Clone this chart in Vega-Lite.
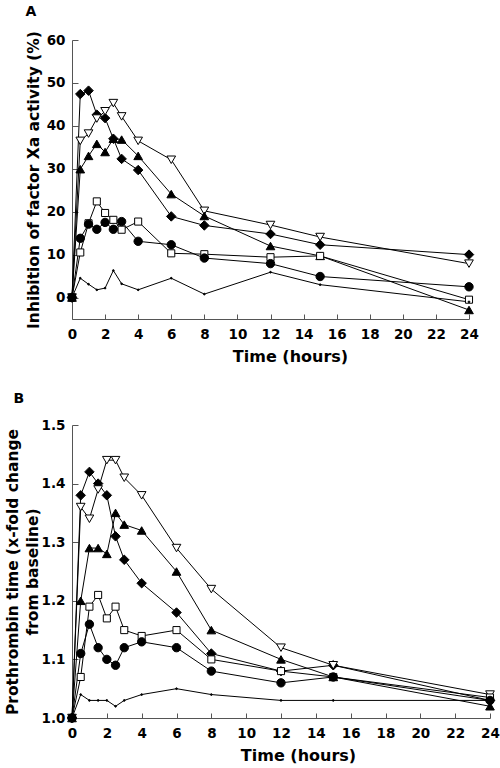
{
  "$schema": "https://vega.github.io/schema/vega-lite/v6.json",
  "padding": {"left": 5, "top": 4, "right": 0, "bottom": 0},
  "background": "white",
  "bounds": "flush",
  "spacing": 106,
  "config": {
    "font": "DejaVu Sans",
    "view": {"stroke": null},
    "axis": {
      "grid": false,
      "labelFont": "DejaVu Sans", "labelFontWeight": "bold", "labelFontSize": 13.5, "labelColor": "black",
      "titleFont": "DejaVu Sans", "titleFontWeight": "bold", "titleFontSize": 16, "titleColor": "black",
      "domainColor": "#555", "tickColor": "#555", "tickSize": -6, "labelPadding": 13,
      "labelFlush": false, "labelOverlap": false
    }
  },
  "datasets": {
    "A": [
      {"t":0,"v":0,"s":"dia"},{"t":0.5,"v":47.4,"s":"dia"},{"t":1,"v":48.2,"s":"dia"},{"t":1.5,"v":42.6,"s":"dia"},{"t":2,"v":41.8,"s":"dia"},{"t":2.5,"v":37.0,"s":"dia"},{"t":3,"v":32.3,"s":"dia"},{"t":4,"v":29.7,"s":"dia"},{"t":6,"v":18.9,"s":"dia"},{"t":8,"v":16.8,"s":"dia"},{"t":12,"v":14.8,"s":"dia"},{"t":15,"v":12.3,"s":"dia"},{"t":24,"v":10.0,"s":"dia"},
      {"t":0,"v":0,"s":"trid"},{"t":0.5,"v":36.5,"s":"trid"},{"t":1,"v":38.2,"s":"trid"},{"t":1.5,"v":41.7,"s":"trid"},{"t":2,"v":43.4,"s":"trid"},{"t":2.5,"v":45.3,"s":"trid"},{"t":3,"v":42.2,"s":"trid"},{"t":4,"v":36.5,"s":"trid"},{"t":6,"v":32.1,"s":"trid"},{"t":8,"v":20.2,"s":"trid"},{"t":12,"v":16.9,"s":"trid"},{"t":15,"v":14.1,"s":"trid"},{"t":24,"v":7.9,"s":"trid"},
      {"t":0,"v":0,"s":"triu"},{"t":0.5,"v":29.9,"s":"triu"},{"t":1,"v":33.0,"s":"triu"},{"t":1.5,"v":35.8,"s":"triu"},{"t":2,"v":33.9,"s":"triu"},{"t":2.5,"v":37.0,"s":"triu"},{"t":3,"v":36.8,"s":"triu"},{"t":4,"v":33.0,"s":"triu"},{"t":6,"v":24.1,"s":"triu"},{"t":8,"v":19.0,"s":"triu"},{"t":12,"v":12.0,"s":"triu"},{"t":15,"v":9.7,"s":"triu"},{"t":24,"v":-2.9,"s":"triu"},
      {"t":0,"v":0,"s":"sq"},{"t":0.5,"v":10.5,"s":"sq"},{"t":1,"v":17.3,"s":"sq"},{"t":1.5,"v":22.4,"s":"sq"},{"t":2,"v":19.7,"s":"sq"},{"t":2.5,"v":18.1,"s":"sq"},{"t":3,"v":15.8,"s":"sq"},{"t":4,"v":17.7,"s":"sq"},{"t":6,"v":10.3,"s":"sq"},{"t":8,"v":10.1,"s":"sq"},{"t":12,"v":9.4,"s":"sq"},{"t":15,"v":9.7,"s":"sq"},{"t":24,"v":-0.5,"s":"sq"},
      {"t":0,"v":0,"s":"circ"},{"t":0.5,"v":13.8,"s":"circ"},{"t":1,"v":17.1,"s":"circ"},{"t":1.5,"v":15.9,"s":"circ"},{"t":2,"v":17.5,"s":"circ"},{"t":2.5,"v":15.9,"s":"circ"},{"t":3,"v":17.7,"s":"circ"},{"t":4,"v":13.1,"s":"circ"},{"t":6,"v":12.3,"s":"circ"},{"t":8,"v":9.2,"s":"circ"},{"t":12,"v":7.9,"s":"circ"},{"t":15,"v":4.9,"s":"circ"},{"t":24,"v":2.5,"s":"circ"},
      {"t":0,"v":0,"s":"pl"},{"t":0.5,"v":4.5,"s":"pl"},{"t":1,"v":3.1,"s":"pl"},{"t":1.5,"v":1.8,"s":"pl"},{"t":2,"v":2.2,"s":"pl"},{"t":2.5,"v":6.3,"s":"pl"},{"t":3,"v":3.2,"s":"pl"},{"t":4,"v":1.8,"s":"pl"},{"t":6,"v":4.5,"s":"pl"},{"t":8,"v":0.8,"s":"pl"},{"t":12,"v":5.9,"s":"pl"},{"t":15,"v":3.0,"s":"pl"},{"t":24,"v":-1.0,"s":"pl"}
    ],
    "B": [
      {"t":0,"v":1.0,"s":"dia"},{"t":0.5,"v":1.38,"s":"dia"},{"t":1,"v":1.42,"s":"dia"},{"t":1.5,"v":1.40,"s":"dia"},{"t":2,"v":1.38,"s":"dia"},{"t":2.5,"v":1.31,"s":"dia"},{"t":3,"v":1.27,"s":"dia"},{"t":4,"v":1.23,"s":"dia"},{"t":6,"v":1.18,"s":"dia"},{"t":8,"v":1.11,"s":"dia"},{"t":12,"v":1.08,"s":"dia"},{"t":15,"v":1.09,"s":"dia"},{"t":24,"v":1.03,"s":"dia"},
      {"t":0,"v":1.0,"s":"trid"},{"t":0.5,"v":1.36,"s":"trid"},{"t":1,"v":1.34,"s":"trid"},{"t":1.5,"v":1.39,"s":"trid"},{"t":2,"v":1.44,"s":"trid"},{"t":2.5,"v":1.44,"s":"trid"},{"t":3,"v":1.41,"s":"trid"},{"t":4,"v":1.38,"s":"trid"},{"t":6,"v":1.29,"s":"trid"},{"t":8,"v":1.22,"s":"trid"},{"t":12,"v":1.12,"s":"trid"},{"t":15,"v":1.09,"s":"trid"},{"t":24,"v":1.04,"s":"trid"},
      {"t":0,"v":1.0,"s":"triu"},{"t":0.5,"v":1.20,"s":"triu"},{"t":1,"v":1.29,"s":"triu"},{"t":1.5,"v":1.29,"s":"triu"},{"t":2,"v":1.28,"s":"triu"},{"t":2.5,"v":1.35,"s":"triu"},{"t":3,"v":1.33,"s":"triu"},{"t":4,"v":1.32,"s":"triu"},{"t":6,"v":1.25,"s":"triu"},{"t":8,"v":1.15,"s":"triu"},{"t":12,"v":1.10,"s":"triu"},{"t":15,"v":1.07,"s":"triu"},{"t":24,"v":1.02,"s":"triu"},
      {"t":0,"v":1.0,"s":"sq"},{"t":0.5,"v":1.07,"s":"sq"},{"t":1,"v":1.19,"s":"sq"},{"t":1.5,"v":1.21,"s":"sq"},{"t":2,"v":1.17,"s":"sq"},{"t":2.5,"v":1.19,"s":"sq"},{"t":3,"v":1.15,"s":"sq"},{"t":4,"v":1.14,"s":"sq"},{"t":6,"v":1.15,"s":"sq"},{"t":8,"v":1.10,"s":"sq"},{"t":12,"v":1.08,"s":"sq"},{"t":15,"v":1.07,"s":"sq"},{"t":24,"v":1.035,"s":"sq"},
      {"t":0,"v":1.0,"s":"circ"},{"t":0.5,"v":1.11,"s":"circ"},{"t":1,"v":1.16,"s":"circ"},{"t":1.5,"v":1.12,"s":"circ"},{"t":2,"v":1.10,"s":"circ"},{"t":2.5,"v":1.09,"s":"circ"},{"t":3,"v":1.12,"s":"circ"},{"t":4,"v":1.13,"s":"circ"},{"t":6,"v":1.12,"s":"circ"},{"t":8,"v":1.08,"s":"circ"},{"t":12,"v":1.06,"s":"circ"},{"t":15,"v":1.07,"s":"circ"},{"t":24,"v":1.03,"s":"circ"},
      {"t":0,"v":1.0,"s":"pl"},{"t":0.5,"v":1.04,"s":"pl"},{"t":1,"v":1.03,"s":"pl"},{"t":1.5,"v":1.03,"s":"pl"},{"t":2,"v":1.03,"s":"pl"},{"t":2.5,"v":1.02,"s":"pl"},{"t":3,"v":1.03,"s":"pl"},{"t":4,"v":1.04,"s":"pl"},{"t":6,"v":1.05,"s":"pl"},{"t":8,"v":1.04,"s":"pl"},{"t":12,"v":1.03,"s":"pl"},{"t":15,"v":1.03,"s":"pl"},{"t":24,"v":1.03,"s":"pl"}
    ]
  },
  "vconcat": [
    {
      "width": 397, "height": 279,
      "data": {"name": "A"},
      "encoding": {
        "y": {"field": "v", "type": "quantitative", "scale": {"domain": [-5, 60], "nice": false, "zero": false},
              "axis": {"values": [0,10,20,30,40,50,60], "title": "Inhibition of factor Xa activity (%)", "titleFontSize": 15.5, "titlePadding": 4.5}}
      },
      "layer": [
        {"mark": {"type": "line", "color": "black", "strokeWidth": 1},
         "encoding": {
           "x": {"field": "t", "type": "quantitative", "scale": {"domain": [0, 24], "nice": false},
                 "axis": {"values": [0,2,4,6,8,10,12,14,16,18,20,22,24], "title": "Time (hours)", "titleX": 218, "titlePadding": 8, "tickSize": -5}},
           "detail": {"field": "s", "type": "nominal"}}},
        {"mark": {"type": "point", "filled": true, "stroke": "black", "strokeWidth": 1, "opacity": 1},
         "encoding": {
           "x": {"field": "t", "type": "quantitative",
                 "axis": {"orient": "top", "domain": false, "ticks": false, "labels": false, "title": "A", "titleFontSize": 14, "titleX": -47, "titleY": -28.5, "titleAlign": "left", "titleBaseline": "middle", "titleAnchor": null}},
           "shape": {"field": "s", "type": "nominal", "scale": {"domain": ["dia","trid","triu","sq","circ","pl"], "range": ["diamond","triangle-down","triangle-up","square","circle","circle"]}, "legend": null},
           "fill": {"field": "s", "type": "nominal", "scale": {"domain": ["dia","trid","triu","sq","circ","pl"], "range": ["black","white","black","white","black","black"]}, "legend": null},
           "size": {"field": "s", "type": "nominal", "scale": {"type": "ordinal", "domain": ["dia","trid","triu","sq","circ","pl"], "range": [90, 75, 75, 50, 70, 3]}, "legend": null}
         }}
      ],
      "resolve": {"axis": {"x": "independent"}}
    },
    {
      "width": 418, "height": 293,
      "data": {"name": "B"},
      "encoding": {
        "y": {"field": "v", "type": "quantitative", "scale": {"domain": [1.0, 1.5], "nice": false, "zero": false},
              "axis": {"values": [1.0,1.1,1.2,1.3,1.4,1.5], "format": ".1f", "title": ["Prothrombin time (x-fold change", "from baseline)"], "titleFontSize": 15.5, "titleLineHeight": 20, "titlePadding": 0.5}}
      },
      "layer": [
        {"mark": {"type": "line", "color": "black", "strokeWidth": 1},
         "encoding": {
           "x": {"field": "t", "type": "quantitative", "scale": {"domain": [0, 24], "nice": false},
                 "axis": {"values": [0,2,4,6,8,10,12,14,16,18,20,22,24], "title": "Time (hours)", "titleX": 226, "titlePadding": 8, "tickSize": -5}},
           "detail": {"field": "s", "type": "nominal"}}},
        {"mark": {"type": "point", "filled": true, "stroke": "black", "strokeWidth": 1, "opacity": 1},
         "encoding": {
           "x": {"field": "t", "type": "quantitative",
                 "axis": {"orient": "top", "domain": false, "ticks": false, "labels": false, "title": "B", "titleFontSize": 14, "titleX": -59, "titleY": -27, "titleAlign": "left", "titleBaseline": "middle", "titleAnchor": null}},
           "shape": {"field": "s", "type": "nominal", "scale": {"domain": ["dia","trid","triu","sq","circ","pl"], "range": ["diamond","triangle-down","triangle-up","square","circle","circle"]}, "legend": null},
           "fill": {"field": "s", "type": "nominal", "scale": {"domain": ["dia","trid","triu","sq","circ","pl"], "range": ["black","white","black","white","black","black"]}, "legend": null},
           "size": {"field": "s", "type": "nominal", "scale": {"type": "ordinal", "domain": ["dia","trid","triu","sq","circ","pl"], "range": [90, 75, 75, 50, 70, 3]}, "legend": null}
         }}
      ],
      "resolve": {"axis": {"x": "independent"}}
    }
  ],
  "resolve": {"scale": {"x": "independent", "y": "independent", "shape": "shared", "fill": "shared", "size": "shared"}}
}
